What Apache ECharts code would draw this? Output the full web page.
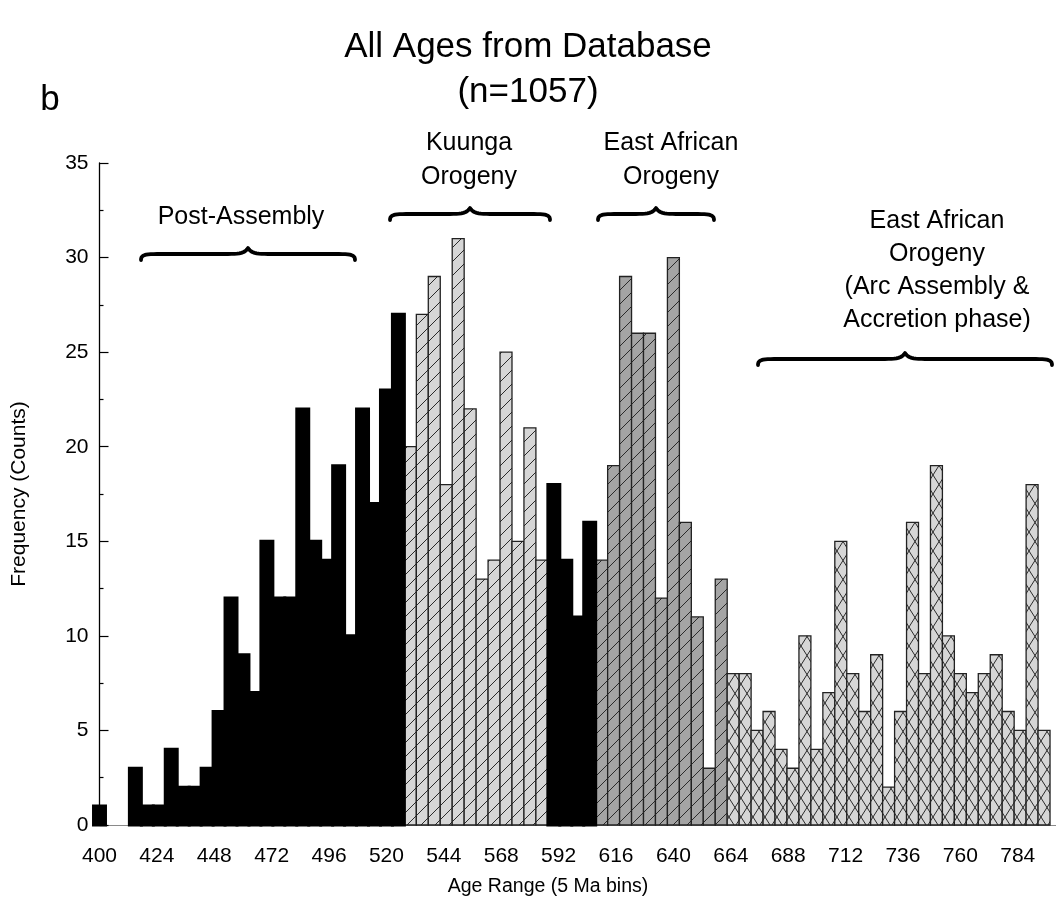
<!DOCTYPE html>
<html>
<head>
<meta charset="utf-8">
<script src="https://cdn.jsdelivr.net/npm/echarts@6/dist/echarts.min.js"></script>
<style>
html,body{margin:0;padding:0;background:#fff;}
#chart{width:1056px;height:910px;}
</style>
</head>
<body>
<div id="chart"></div>
<script>
// ---- data (bin centres in Ma, counts) ----
const blackAgesA   = [400,405,410,415,420,425,430,435,440,445,450,455,460,465,470,475,480,485,490,495,500,505,510,515,520,525];
const blackCountsA = [1,0,0,3,1,1,4,2,2,3,6,12,9,7,15,12,12,22,15,14,19,10,22,17,23,27];
const kuungaAges   = [530,535,540,545,550,555,560,565,570,575,580,585];
const kuungaCounts = [20,27,29,18,31,22,13,14,25,15,21,14];
const blackAgesB   = [590,595,600,605];
const blackCountsB = [18,14,11,16];
const eaoAges      = [610,615,620,625,630,635,640,645,650,655,660];
const eaoCounts    = [14,19,29,26,26,12,30,16,11,3,13];
const arcAges      = [665,670,675,680,685,690,695,700,705,710,715,720,725,730,735,740,745,750,755,760,765,770,775,780,785,790,795];
const arcCounts    = [8,8,5,6,4,3,10,4,7,15,8,6,9,2,6,16,8,19,10,8,7,8,9,6,5,18,5];
const xTickLabels  = [400,424,448,472,496,520,544,568,592,616,640,664,688,712,736,760,784];
const binWidth = 5;

function pairs(a, c){ return a.map((v,i)=>[v, c[i]]); }

// ---- hatch patterns ----
function makeDiag(fill, size){
  const cv = document.createElement('canvas'); cv.width = size; cv.height = size;
  const g = cv.getContext('2d');
  g.fillStyle = fill; g.fillRect(0,0,size,size);
  g.strokeStyle = '#2a2a2a'; g.lineWidth = 1;
  g.beginPath();
  g.moveTo(-2, size+2); g.lineTo(size+2, -2);
  g.moveTo(-2-size, size+2); g.lineTo(2, -2);
  g.moveTo(size-2, size+2); g.lineTo(2*size+2, -2);
  g.stroke();
  return cv;
}
function makeCross(fill, w, h, off){
  const cv = document.createElement('canvas'); cv.width = w; cv.height = h;
  const g = cv.getContext('2d');
  g.fillStyle = fill; g.fillRect(0,0,w,h);
  g.strokeStyle = '#2a2a2a'; g.lineWidth = 1;
  g.beginPath();
  for (let k=-1;k<=1;k++){
    const dx = off + k*w;
    g.moveTo(dx, 0); g.lineTo(dx+w, h);
    g.moveTo(dx+w, 0); g.lineTo(dx, h);
  }
  g.stroke();
  return cv;
}
const lightHatch = {image: makeDiag('#d6d6d6', 14), repeat: 'repeat'};
const darkHatch  = {image: makeDiag('#a4a4a4', 14), repeat: 'repeat'};
const crossHatch = {image: makeCross('#d6d6d6', 12, 19, 9), repeat: 'repeat'};

function barRenderer(fill, stroke, lw){
  return function(params, api){
    const age = api.value(0), cnt = api.value(1);
    if (!cnt) return null;
    const p0 = api.coord([age - binWidth/2, cnt]);
    const p1 = api.coord([age + binWidth/2, 0]);
    return {
      type: 'rect',
      shape: {x: p0[0], y: p0[1], width: p1[0]-p0[0], height: p1[1]-p0[1]},
      style: {fill: fill, stroke: stroke, lineWidth: lw}
    };
  };
}

// ---- curly braces (annotation) ----
function cubic(p0, p1, p2, p3, n, out){
  for (let i=1;i<=n;i++){
    const t=i/n, u=1-t;
    out.push([u*u*u*p0[0]+3*u*u*t*p1[0]+3*u*t*t*p2[0]+t*t*t*p3[0],
              u*u*u*p0[1]+3*u*u*t*p1[1]+3*u*t*t*p2[1]+t*t*t*p3[1]]);
  }
}
function bracePoints(x0, x1, y){
  const xc = (x0+x1)/2, pts = [[x0, y+6]];
  cubic([x0,y+6],[x0,y+1],[x0+4,y],[x0+16,y],10,pts);
  pts.push([xc-20, y]);
  cubic([xc-20,y],[xc-8,y],[xc-3,y-1],[xc,y-6],10,pts);
  cubic([xc,y-6],[xc+3,y-1],[xc+8,y],[xc+20,y],10,pts);
  pts.push([x1-16, y]);
  cubic([x1-16,y],[x1-4,y],[x1,y+1],[x1,y+6],10,pts);
  return pts;
}
function brace(x0, x1, y){
  return {type:'polyline', shape:{points: bracePoints(x0,x1,y)}, style:{fill:null, stroke:'#000', lineWidth:3.8, lineCap:'round', lineJoin:'round'}};
}
const FONT = '"Liberation Sans", Arial, sans-serif';
function label(x, y, text, size, lh){
  return {type:'text', x:x, y:y, style:{text:text, fill:'#000', font: size+'px ' + FONT, textAlign:'center', textVerticalAlign:'middle', lineHeight: lh || size}};
}

const chart = echarts.init(document.getElementById('chart'), null, {renderer:'canvas'});
chart.setOption({
  animation: false,
  backgroundColor: '#fff',
  title: {
    text: 'All Ages from Database\n(n=1057)',
    left: 'center', top: 20,
    textStyle: {fontSize: 35, fontWeight: 'normal', color: '#000', fontFamily: FONT, lineHeight: 45}
  },
  grid: {left: 99.5, right: -5.5, top: 163, bottom: 85, containLabel: false},
  xAxis: {
    type: 'value', min: 400, max: 800,
    axisLine: {show: true, lineStyle: {color: '#8a8a8a', width: 1}},
    axisTick: {show: false},
    splitLine: {show: false},
    axisLabel: {customValues: xTickLabels, fontSize: 21, color: '#000', fontFamily: FONT, margin: 21}
  },
  yAxis: {
    type: 'value', min: 0, max: 35, interval: 5,
    name: 'Frequency (Counts)', nameLocation: 'middle', nameRotate: 90, nameGap: 70,
    nameTextStyle: {fontSize: 21, color: '#000', fontFamily: FONT},
    axisLine: {show: true, lineStyle: {color: '#000', width: 1.3}},
    axisTick: {show: true, inside: true, length: 9, lineStyle: {color: '#000', width: 1.2}},
    minorTick: {show: true, splitNumber: 2, length: 4, lineStyle: {color: '#000', width: 1.2}},
    splitLine: {show: false},
    axisLabel: {fontSize: 21, color: '#000', fontFamily: FONT, margin: 11}
  },
  series: [
    {type: 'custom', clip: false, data: pairs(blackAgesA, blackCountsA), renderItem: barRenderer('#000', '#000', 3), z: 3},
    {type: 'custom', clip: false, data: pairs(kuungaAges, kuungaCounts), renderItem: barRenderer(lightHatch, '#222', 1.3), z: 2},
    {type: 'custom', clip: false, data: pairs(blackAgesB, blackCountsB), renderItem: barRenderer('#000', '#000', 3), z: 3},
    {type: 'custom', clip: false, data: pairs(eaoAges, eaoCounts), renderItem: barRenderer(darkHatch, '#222', 1.3), z: 2},
    {type: 'custom', clip: false, data: pairs(arcAges, arcCounts), renderItem: barRenderer(crossHatch, '#222', 1.3), z: 2}
  ],
  graphic: [
    label(50, 100, 'b', 35),
    label(548, 887, 'Age Range (5 Ma bins)', 19.5),
    label(241, 217, 'Post-Assembly', 25),
    label(469, 160, 'Kuunga\nOrogeny', 25, 34),
    label(671, 160, 'East African\nOrogeny', 25, 34),
    label(937, 271, 'East African\nOrogeny\n(Arc Assembly &\nAccretion phase)', 25, 33),
    brace(141, 355, 254),
    brace(390, 550, 214),
    brace(598, 714, 214),
    brace(758, 1052, 359)
  ]
});
</script>
</body>
</html>
